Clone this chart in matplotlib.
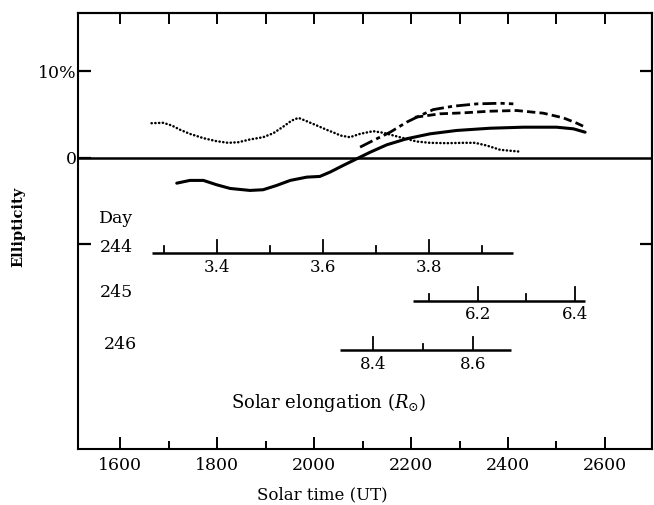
import matplotlib
matplotlib.use("Agg")
import matplotlib.pyplot as plt
import numpy as np

plt.rcParams['font.family'] = ['DejaVu Serif']
plt.rcParams['mathtext.fontset'] = 'dejavuserif'

# ellipticity curves (solar time, percent)
dot_t = [1665, 1689, 1707, 1724, 1744, 1772, 1799, 1823, 1844, 1868, 1895, 1916, 1937, 1954, 1968,
         1985, 2006, 2026, 2047, 2054, 2074, 2095, 2122, 2143, 2177, 2212, 2239, 2274, 2308, 2332,
         2356, 2384, 2421]
dot_e = [4.0, 4.05, 3.73, 3.24, 2.77, 2.27, 1.92, 1.73, 1.80, 2.12, 2.38, 2.84, 3.62, 4.31, 4.62,
         4.23, 3.73, 3.24, 2.77, 2.58, 2.38, 2.77, 3.08, 2.89, 2.38, 1.88, 1.73, 1.69, 1.73, 1.73,
         1.42, 0.92, 0.73]

solid_t = [1717, 1744, 1772, 1799, 1827, 1868, 1895, 1923, 1951, 1985, 2012, 2033, 2060, 2088,
           2116, 2150, 2191, 2239, 2294, 2363, 2432, 2500, 2535, 2559]
solid_e = [-2.94, -2.62, -2.62, -3.12, -3.55, -3.78, -3.70, -3.20, -2.62, -2.24, -2.16, -1.66,
           -0.89, -0.12, 0.65, 1.50, 2.20, 2.77, 3.16, 3.42, 3.54, 3.54, 3.35, 2.96]

dash_t = [2208, 2219, 2260, 2308, 2363, 2418, 2473, 2514, 2542, 2562]
dash_e = [4.69, 4.77, 5.09, 5.20, 5.39, 5.47, 5.16, 4.62, 4.0, 3.47]

dashdot_t = [2095, 2122, 2157, 2191, 2219, 2246, 2287, 2336, 2384, 2411]
dashdot_e = [1.23, 2.0, 2.96, 4.12, 4.89, 5.58, 5.97, 6.24, 6.31, 6.24]

# solar elongation rulers per day: anchor elongation, its solar time, time per unit elongation
days = ['244', '245', '246']
ruler_level = [-11.06, -16.6, -22.3]
ruler_anchor = [(3.4, 1800, 1092), (6.2, 2338, 1000), (8.4, 2122, 1030)]
ruler_span = [(3.277, 3.959), (6.066, 6.421), (8.334, 8.676)]
ruler_ticks = [[3.3, 3.4, 3.5, 3.6, 3.7, 3.8, 3.9],
               [6.1, 6.2, 6.3, 6.4],
               [8.4, 8.5, 8.6]]
ruler_labels = [[3.4, 3.6, 3.8], [6.2, 6.4], [8.4, 8.6]]


def to_time(elong, anchor):
    e0, t0, k = anchor
    return t0 + (np.asarray(elong) - e0) * k


fig = plt.figure(figsize=(6.54, 5.05), dpi=100)
ax = fig.add_axes([0.119, 0.111, 0.878, 0.864])

ax.axhline(0, color='black', lw=1.8)
ax.plot(dot_t, dot_e, color='black', lw=1.8, linestyle=(0, (0.1, 1.4)), dash_capstyle='round')
ax.plot(solid_t, solid_e, color='black', lw=2.2, solid_capstyle='round', solid_joinstyle='round')
ax.plot(dash_t, dash_e, color='black', lw=2.0, linestyle=(0, (3, 1.5)))
ax.plot(dashdot_t, dashdot_e, color='black', lw=2.0, linestyle=(0, (5, 1.5, 1.5, 1.5)))

for lev, anc, span, ticks, labs in zip(ruler_level, ruler_anchor, ruler_span, ruler_ticks, ruler_labels):
    ts = to_time(span, anc)
    ax.plot(ts, [lev, lev], color='black', lw=1.8, solid_capstyle='butt')
    for e in ticks:
        major = any(abs(e - l) < 1e-6 for l in labs)
        h = 1.6 if major else 0.8
        tt = to_time(e, anc)
        ax.plot([tt, tt], [lev, lev + h], color='black', lw=1.3)
    for l in labs:
        ax.text(to_time(l, anc), lev - 0.6, f'{l:.1f}', ha='center', va='top', fontsize=12)

ax.text(1592, -7.0, 'Day', ha='center', va='center', fontsize=12.5)
ax.text(1592, -10.4, days[0], ha='center', va='center', fontsize=12.5)
ax.text(1592, -15.6, days[1], ha='center', va='center', fontsize=12.5)
ax.text(1600, -21.6, days[2], ha='center', va='center', fontsize=12.5)
ax.text(2030, -28.3, r'Solar elongation ($R_{\odot}$)', ha='center', va='center', fontsize=13)

ax.set_xlim(1513, 2697)
ax.set_ylim(-33.7, 16.8)

ax.set_xticks(np.arange(1600, 2601, 200))
ax.set_xticks(np.arange(1700, 2601, 200), minor=True)
ax.set_yticks([-10, 0, 10])
ax.set_yticklabels(['', '0', '10%'])
ax.tick_params(axis='x', which='major', direction='in', length=9, width=1.4, labelsize=12.5, pad=6,
               top=False)
ax.tick_params(axis='x', which='minor', direction='in', length=6, width=1.4, top=False)
ax.tick_params(axis='y', which='major', direction='in', length=9, width=1.6, labelsize=12.5, pad=1,
               right=False)

top = ax.secondary_xaxis('top')
top.set_xticks(np.arange(1600, 2701, 100))
top.tick_params(direction='in', length=8, width=1.4, labeltop=False)
right = ax.secondary_yaxis('right')
right.set_yticks([-10, 10])
right.tick_params(direction='in', length=9, width=1.6, labelright=False)
for sp in list(ax.spines.values()) + [top.spines['top'], right.spines['right']]:
    sp.set_linewidth(1.5)

ax.set_xlabel('Solar time (UT)', fontsize=12)
ax.xaxis.set_label_coords(0.425, -0.085)
ax.set_ylabel('Ellipticity', fontsize=10.5, fontweight='bold')
ax.yaxis.set_label_coords(-0.092, 0.508)

fig.savefig('out.png', dpi=100)
